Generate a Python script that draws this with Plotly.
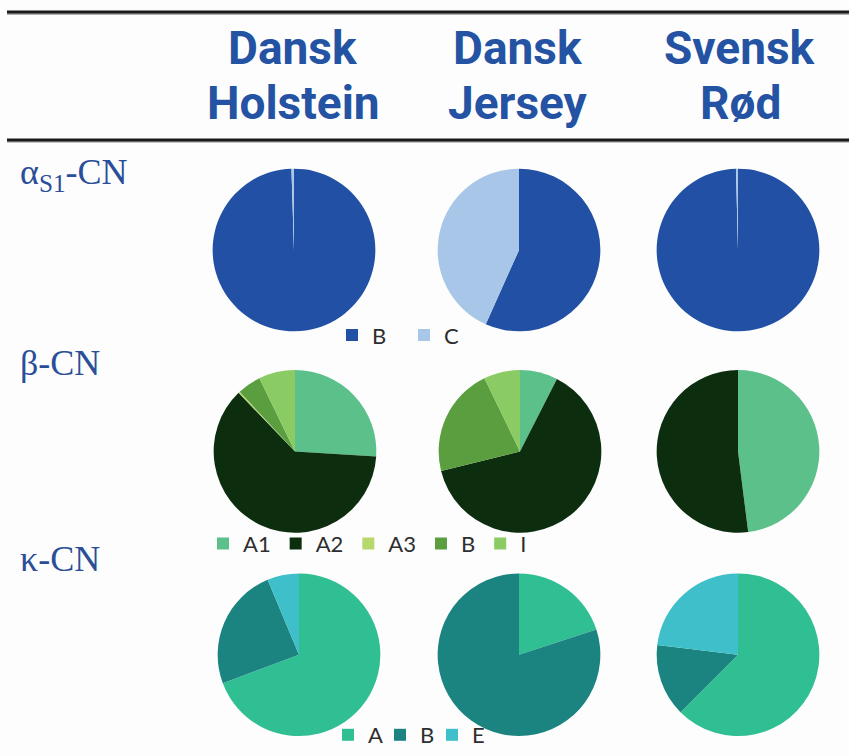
import plotly.graph_objects as go

W, H = 849, 756

# ---------------- data ----------------
breeds = ["Dansk Holstein", "Dansk Jersey", "Svensk Rød"]
header_line1 = ["Dansk", "Dansk", "Svensk"]
header_line2 = ["Holstein", "Jersey", "Rød"]
proteins = ["α<sub>S1</sub>-CN", "β-CN", "κ-CN"]

# the variant "B" occurs in three legends; an invisible <span> keeps each one separate
as1_labels = ["B", "C"]
as1_values = {
    "Dansk Holstein": [99.5, 0.5],
    "Dansk Jersey": [56.7, 43.3],
    "Svensk Rød": [99.6, 0.4],
}
as1_colors = ["#2150a4", "#a8c7e8"]

beta_labels = ["A1", "A2", "A3", "<span>B</span>", "I"]
beta_values = {
    "Dansk Holstein": [26.0, 61.8, 0.3, 4.7, 7.2],
    "Dansk Jersey": [7.5, 63.6, 0.0, 21.7, 7.2],
    "Svensk Rød": [48.0, 52.0, 0.0, 0.0, 0.0],
}
beta_colors = ["#5cc08a", "#0c2e0f", "#b6d86c", "#5a9e3f", "#8acb63"]

kappa_labels = ["A", "<span style=''>B</span>", "E"]
kappa_values = {
    "Dansk Holstein": [69.3, 24.4, 6.3],
    "Dansk Jersey": [20.0, 80.0, 0.0],
    "Svensk Rød": [62.5, 14.4, 23.1],
}
kappa_colors = ["#30be93", "#1b8481", "#3ebfca"]

# ---------------- layout helpers (pixel -> paper) ----------------
def px(x):
    return x / W

def py(y):
    return 1 - y / H

R = 82
col_x = {0: [294, 519, 738], 1: [295, 520, 738], 2: [299, 519, 738]}
row_y = [252, 455, 660]

rows = [
    (as1_labels, as1_values, as1_colors, "legend"),
    (beta_labels, beta_values, beta_colors, "legend2"),
    (kappa_labels, kappa_values, kappa_colors, "legend3"),
]

fig = go.Figure()
for ri, (labels, values, colors, leg) in enumerate(rows):
    for ci, breed in enumerate(breeds):
        cx, cy = col_x[ri][ci], row_y[ri]
        fig.add_trace(go.Pie(
            labels=labels,
            values=values[breed],
            marker=dict(colors=colors, line=dict(width=0)),
            sort=False,
            direction="clockwise",
            rotation=0,
            textinfo="none",
            hoverinfo="label+percent",
            name=breed,
            legend=leg,
            domain=dict(x=[px(cx - R), px(cx + R)], y=[py(cy + R), py(cy - R)]),
        ))

legend_font = dict(family="Lato, Roboto, sans-serif", size=22, color="#2e2e2e")
leg_common = dict(orientation="h", font=legend_font, bgcolor="rgba(0,0,0,0)",
                  xanchor="left", yanchor="middle", borderwidth=0,
                  traceorder="normal")

annotations = []
hdr_x = [293, 518, 740]
hdr_font = dict(family="Roboto, sans-serif", size=46, color="#2453a3", weight="bold")
for i in range(3):
    annotations.append(dict(x=px(hdr_x[i]), y=py(48), xref="paper", yref="paper",
                            text=header_line1[i], showarrow=False, font=hdr_font,
                            xanchor="center", yanchor="middle"))
    annotations.append(dict(x=px(hdr_x[i]), y=py(104), xref="paper", yref="paper",
                            text=header_line2[i], showarrow=False, font=hdr_font,
                            xanchor="center", yanchor="middle"))

lab_y = [176, 366, 563]
lab_font = dict(family="Liberation Serif, serif", size=36, color="#2a4e98")
for i in range(3):
    annotations.append(dict(x=px(18), y=py(lab_y[i]), xref="paper", yref="paper",
                            text=proteins[i], showarrow=False, font=lab_font,
                            xanchor="left", yanchor="middle"))

shapes = [
    dict(type="line", xref="paper", yref="paper", x0=px(7), x1=1, y0=py(14), y1=py(14),
         line=dict(color="#b0b0b0", width=2)),
    dict(type="line", xref="paper", yref="paper", x0=px(7), x1=1, y0=py(12), y1=py(12),
         line=dict(color="#1a1a1a", width=3)),
    dict(type="line", xref="paper", yref="paper", x0=px(7), x1=1, y0=py(143), y1=py(143),
         line=dict(color="#b0b0b0", width=2)),
    dict(type="line", xref="paper", yref="paper", x0=px(7), x1=1, y0=py(141), y1=py(141),
         line=dict(color="#1a1a1a", width=3)),
]

fig.update_layout(
    width=W, height=H,
    margin=dict(l=0, r=0, t=0, b=0),
    paper_bgcolor="#fdfdfd",
    plot_bgcolor="#fdfdfd",
    showlegend=True,
    legend=dict(x=px(332), y=py(338), entrywidth=27, **leg_common),
    legend2=dict(x=px(203), y=py(548), **leg_common),
    legend3=dict(x=px(328), y=py(741), entrywidth=7, **leg_common),
    annotations=annotations,
    shapes=shapes,
)

fig.write_html("out.html")
